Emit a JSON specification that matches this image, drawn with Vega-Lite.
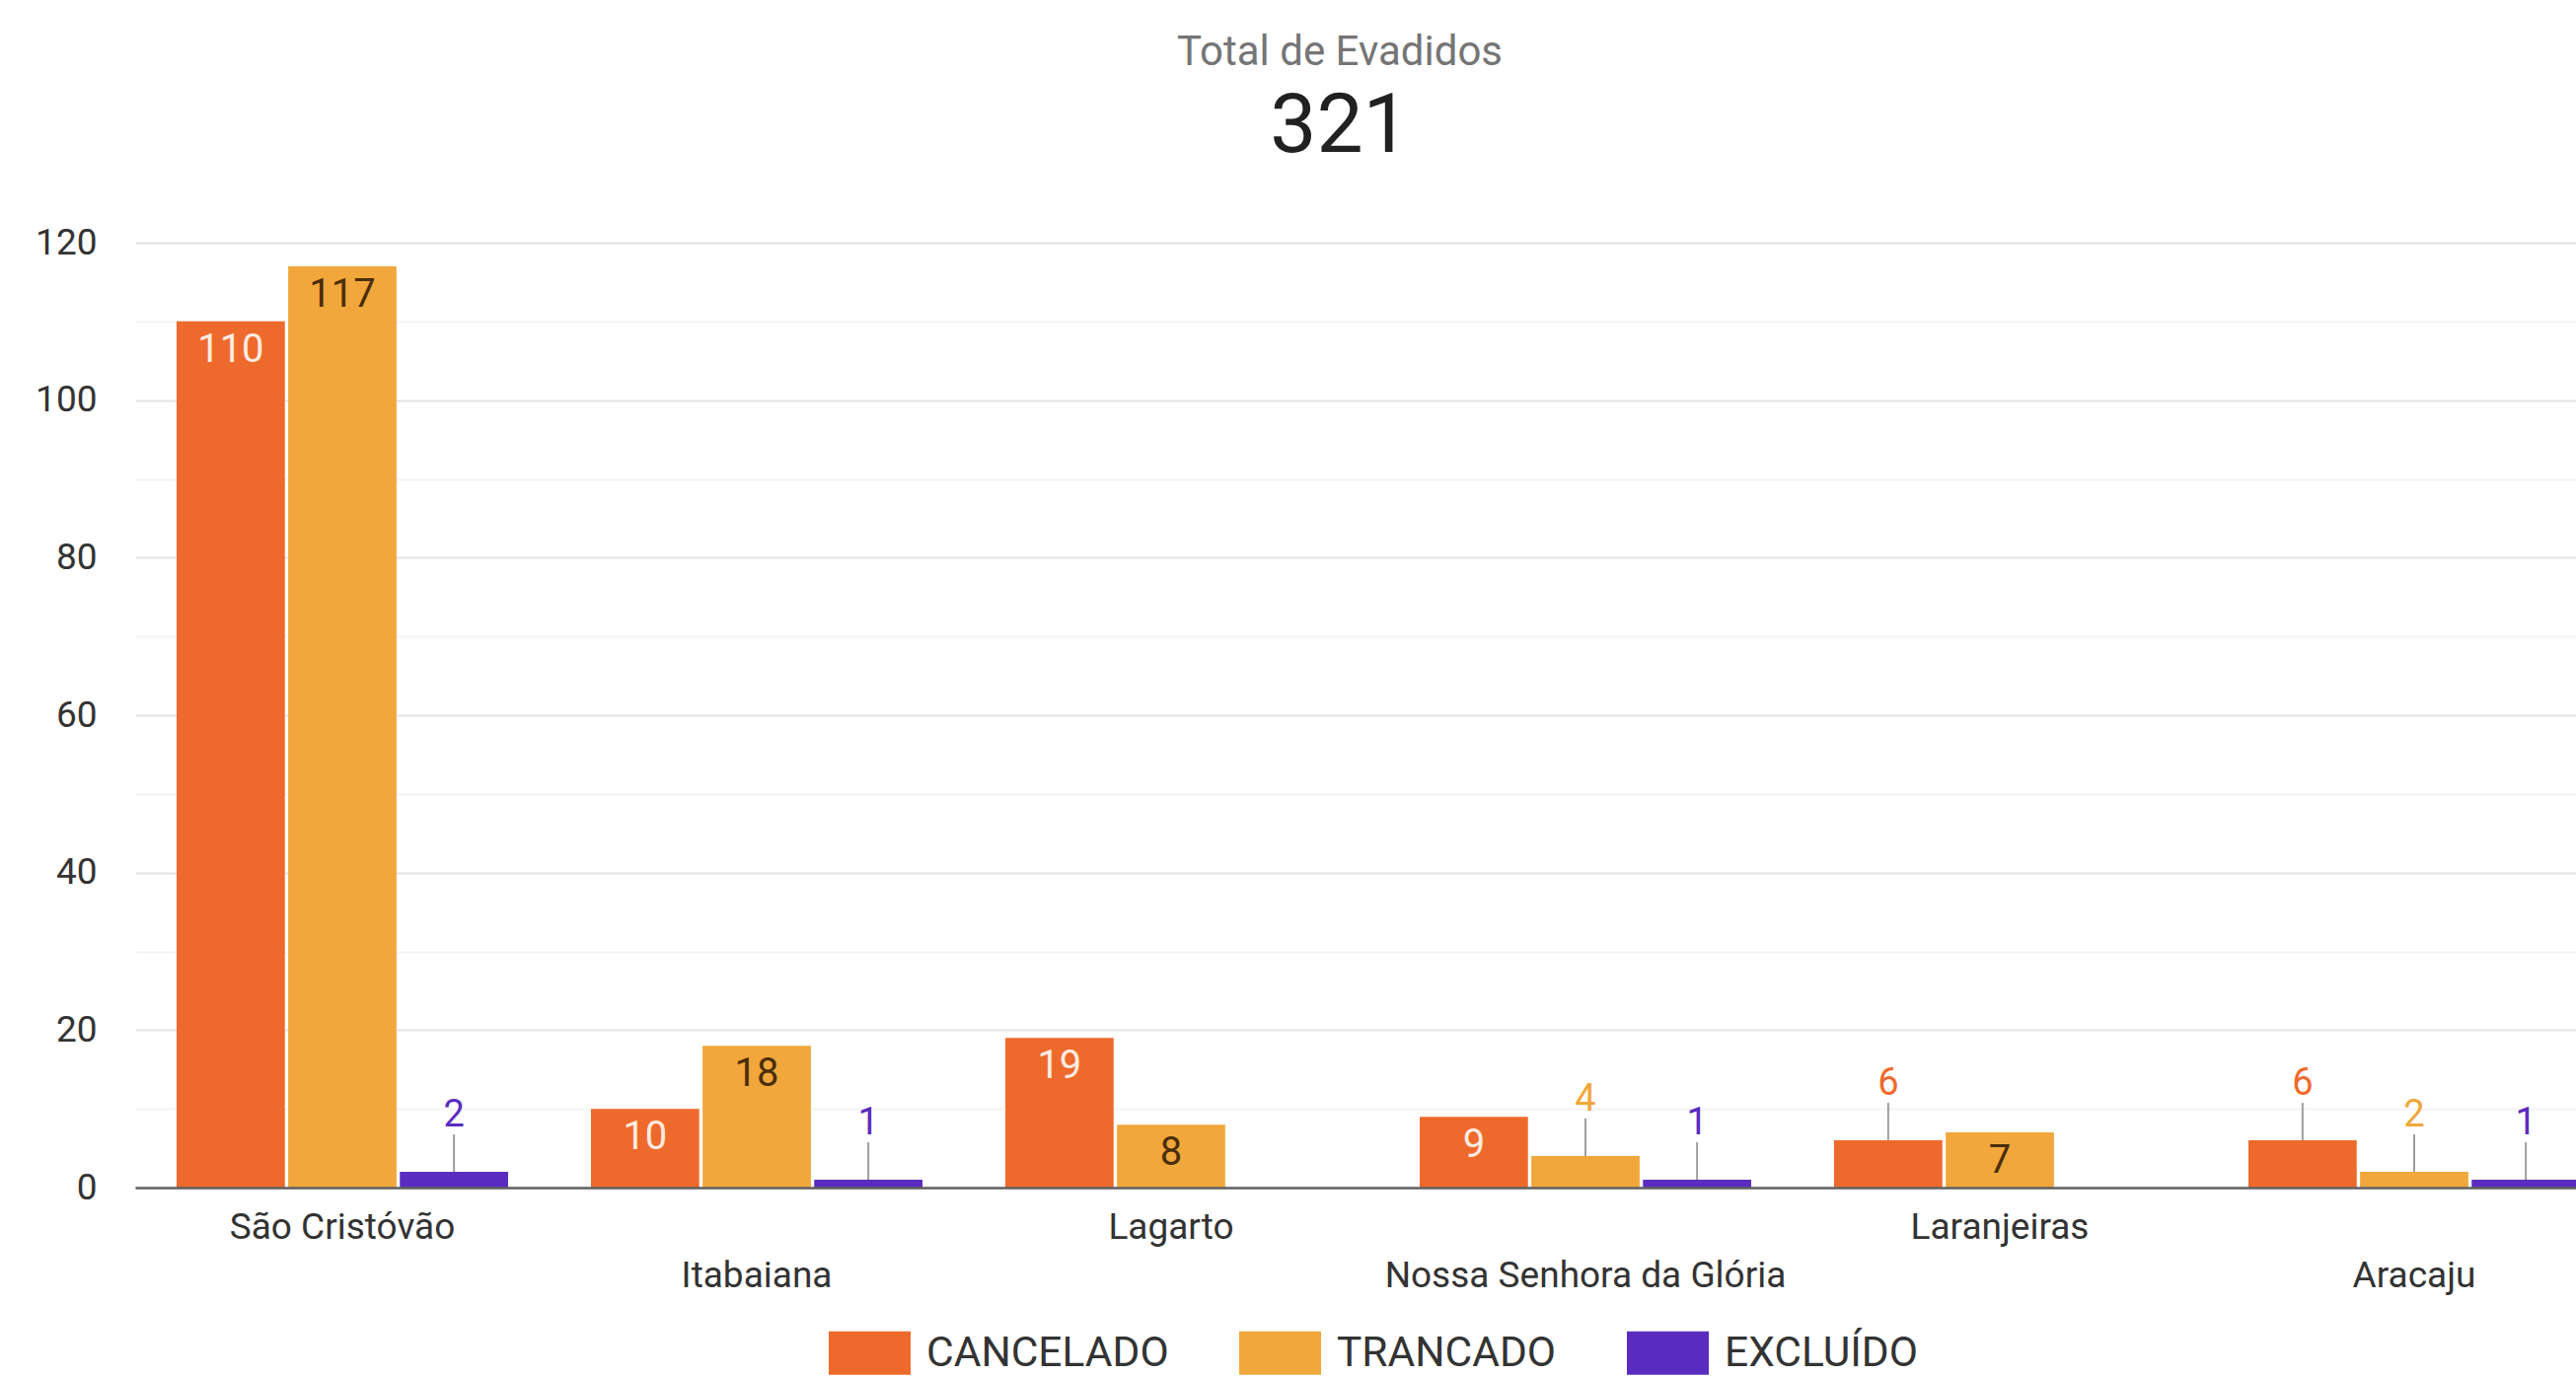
{
  "$schema": "https://vega.github.io/schema/vega-lite/v6.json",
  "autosize": {"type": "none"},
  "padding": {"left": 137, "top": 246, "right": 0, "bottom": 191},
  "width": 2474,
  "height": 958,
  "background": "#ffffff",
  "title": {
    "text": "Total de Evadidos",
    "subtitle": "321",
    "anchor": "middle",
    "frame": "group",
    "dx": -16,
    "offset": 55,
    "fontSize": 42,
    "fontWeight": "normal",
    "color": "#757575",
    "subtitleFontSize": 84,
    "subtitleColor": "#212121",
    "subtitlePadding": 13
  },
  "data": {
    "values": [
      {"municipio": "São Cristóvão", "situacao": "CANCELADO", "valor": 110},
      {"municipio": "São Cristóvão", "situacao": "TRANCADO", "valor": 117},
      {"municipio": "São Cristóvão", "situacao": "EXCLUÍDO", "valor": 2},
      {"municipio": "Itabaiana", "situacao": "CANCELADO", "valor": 10},
      {"municipio": "Itabaiana", "situacao": "TRANCADO", "valor": 18},
      {"municipio": "Itabaiana", "situacao": "EXCLUÍDO", "valor": 1},
      {"municipio": "Lagarto", "situacao": "CANCELADO", "valor": 19},
      {"municipio": "Lagarto", "situacao": "TRANCADO", "valor": 8},
      {"municipio": "Nossa Senhora da Glória", "situacao": "CANCELADO", "valor": 9},
      {"municipio": "Nossa Senhora da Glória", "situacao": "TRANCADO", "valor": 4},
      {"municipio": "Nossa Senhora da Glória", "situacao": "EXCLUÍDO", "valor": 1},
      {"municipio": "Laranjeiras", "situacao": "CANCELADO", "valor": 6},
      {"municipio": "Laranjeiras", "situacao": "TRANCADO", "valor": 7},
      {"municipio": "Aracaju", "situacao": "CANCELADO", "valor": 6},
      {"municipio": "Aracaju", "situacao": "TRANCADO", "valor": 2},
      {"municipio": "Aracaju", "situacao": "EXCLUÍDO", "valor": 1}
    ]
  },
  "encoding": {
    "x": {
      "field": "municipio",
      "type": "nominal",
      "sort": ["São Cristóvão", "Itabaiana", "Lagarto", "Nossa Senhora da Glória", "Laranjeiras", "Aracaju"],
      "scale": {"range": [0, 2520], "paddingInner": 0.2, "paddingOuter": 0.1},
      "axis": {
        "title": null,
        "labelAngle": 0,
        "ticks": false,
        "domain": true,
        "domainColor": "#616161",
        "domainWidth": 2.5,
        "labelFontSize": 37,
        "labelColor": "#333333",
        "labelPadding": 22,
        "labelLineHeight": 49,
        "labelBaseline": "top",
        "labelLimit": 600,
        "zindex": 1,
        "labelExpr": "indexof(['Itabaiana','Nossa Senhora da Glória','Aracaju'], datum.value) >= 0 ? ['', datum.value] : datum.value"
      }
    },
    "xOffset": {
      "field": "situacao",
      "type": "nominal",
      "sort": ["CANCELADO", "TRANCADO", "EXCLUÍDO"],
      "scale": {"paddingInner": 0.03, "paddingOuter": 0}
    },
    "y": {
      "field": "valor",
      "type": "quantitative",
      "scale": {"domain": [0, 120], "nice": false},
      "axis": {
        "title": null,
        "values": [0, 10, 20, 30, 40, 50, 60, 70, 80, 90, 100, 110, 120],
        "labelExpr": "datum.value % 20 === 0 ? datum.label : ''",
        "ticks": false,
        "domain": false,
        "labelFontSize": 37,
        "labelColor": "#333333",
        "labelPadding": 39,
        "gridWidth": 2,
        "gridColor": {"condition": {"test": "datum.value % 20 === 0", "value": "#e3e3e3"}, "value": "#f3f3f3"}
      }
    }
  },
  "layer": [
    {
      "mark": {"type": "bar"},
      "encoding": {
        "color": {
          "field": "situacao",
          "type": "nominal",
          "sort": ["CANCELADO", "TRANCADO", "EXCLUÍDO"],
          "scale": {"domain": ["CANCELADO", "TRANCADO", "EXCLUÍDO"], "range": ["#ee6a2c", "#f1a73b", "#5a2cc0"]},
          "legend": {
            "title": null,
            "orient": "none",
            "direction": "horizontal",
            "legendX": 703,
            "legendY": 1084,
            "symbolType": "M-1,-0.53H1V0.53H-1Z",
            "symbolSize": 6889,
            "symbolStrokeWidth": 0,
            "symbolOpacity": 1,
            "labelFontSize": 42.5,
            "labelColor": "#333333",
            "labelOffset": 16,
            "columnPadding": 71,
            "labelLimit": 400
          }
        }
      }
    },
    {
      "transform": [{"filter": "datum.valor < 7"}],
      "mark": {"type": "rule", "color": "#9e9e9e", "strokeWidth": 2, "y2Offset": -38},
      "encoding": {
        "y2": {"field": "valor"}
      }
    },
    {
      "transform": [{"filter": "datum.valor < 7"}],
      "mark": {"type": "text", "fontSize": 38, "dy": -57, "baseline": "middle"},
      "encoding": {
        "text": {"field": "valor", "type": "quantitative"},
        "color": {"field": "situacao", "type": "nominal", "legend": null}
      }
    },
    {
      "transform": [{"filter": "datum.valor >= 7"}],
      "mark": {"type": "text", "fontSize": 40, "dy": 29, "baseline": "middle"},
      "encoding": {
        "text": {"field": "valor", "type": "quantitative"},
        "color": {"condition": {"test": "datum.situacao === 'CANCELADO'", "value": "#fdebe0"}, "value": "#4a2e0a"}
      }
    }
  ],
  "config": {
    "font": "Roboto",
    "view": {"stroke": null}
  }
}
